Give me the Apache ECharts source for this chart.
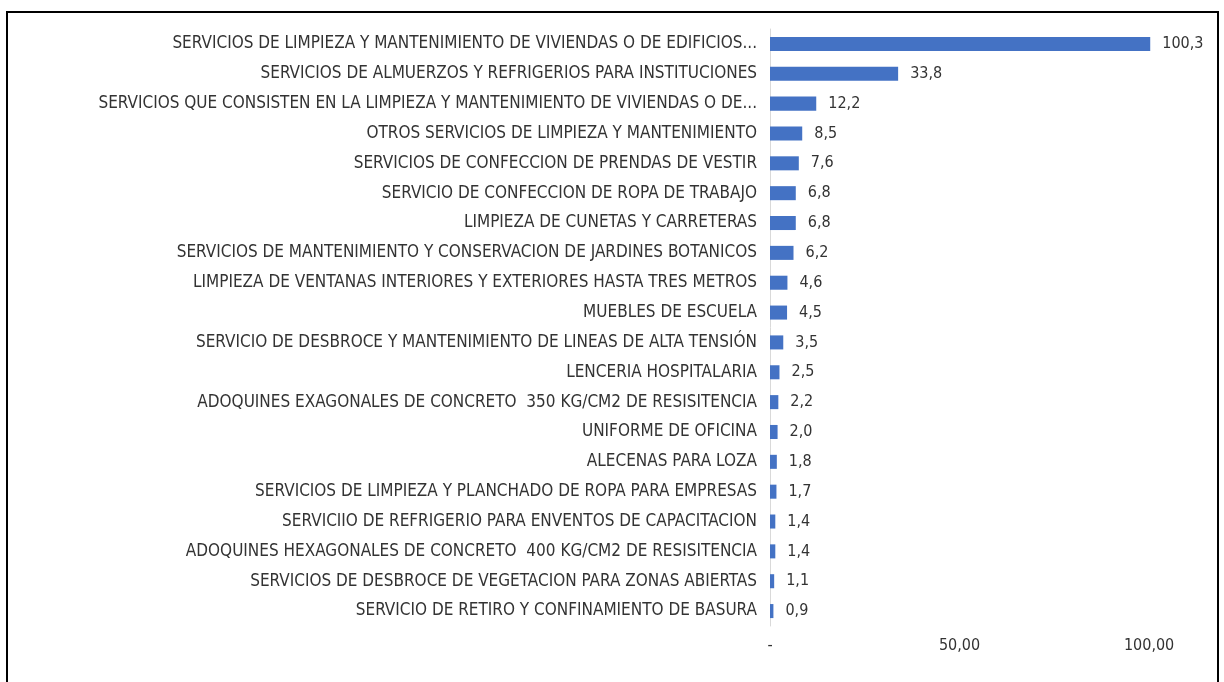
<!DOCTYPE html>
<html>
<head>
<meta charset="utf-8">
<script src="https://cdn.jsdelivr.net/npm/echarts@6/dist/echarts.min.js"></script>
<style>
  html, body { margin: 0; padding: 0; background: #fff; overflow: hidden; }
  #frame { position: absolute; left: 6px; top: 11px; width: 1209px; height: 700px; border: 2px solid #000; }
  #chart { position: absolute; left: 0; top: 0; width: 1224px; height: 682px; }
</style>
</head>
<body>
<div id="frame"></div>
<div id="chart"></div>
<script>
  // categorias y valores
  const categories = [
    'SERVICIOS DE LIMPIEZA Y MANTENIMIENTO DE VIVIENDAS O DE EDIFICIOS...',
    'SERVICIOS DE ALMUERZOS Y REFRIGERIOS PARA INSTITUCIONES',
    'SERVICIOS QUE CONSISTEN EN LA LIMPIEZA Y MANTENIMIENTO DE VIVIENDAS O DE...',
    'OTROS SERVICIOS DE LIMPIEZA Y MANTENIMIENTO',
    'SERVICIOS DE CONFECCION DE PRENDAS DE VESTIR',
    'SERVICIO DE CONFECCION DE ROPA DE TRABAJO',
    'LIMPIEZA DE CUNETAS Y CARRETERAS',
    'SERVICIOS DE MANTENIMIENTO Y CONSERVACION DE JARDINES BOTANICOS',
    'LIMPIEZA DE VENTANAS INTERIORES Y EXTERIORES HASTA TRES METROS',
    'MUEBLES DE ESCUELA',
    'SERVICIO DE DESBROCE Y MANTENIMIENTO DE LINEAS DE ALTA TENSIÓN',
    'LENCERIA HOSPITALARIA',
    'ADOQUINES EXAGONALES DE CONCRETO  350 KG/CM2 DE RESISITENCIA',
    'UNIFORME DE OFICINA',
    'ALECENAS PARA LOZA',
    'SERVICIOS DE LIMPIEZA Y PLANCHADO DE ROPA PARA EMPRESAS',
    'SERVICIIO DE REFRIGERIO PARA ENVENTOS DE CAPACITACION',
    'ADOQUINES HEXAGONALES DE CONCRETO  400 KG/CM2 DE RESISITENCIA',
    'SERVICIOS DE DESBROCE DE VEGETACION PARA ZONAS ABIERTAS',
    'SERVICIO DE RETIRO Y CONFINAMIENTO DE BASURA'
  ];
  const values = [100.3, 33.8, 12.2, 8.5, 7.6, 6.8, 6.8, 6.2, 4.6, 4.5, 3.5, 2.5, 2.2, 2.0, 1.8, 1.7, 1.4, 1.4, 1.1, 0.9];
  const xTicks = [0, 50, 100];

  const font = "'DejaVu Sans Condensed', sans-serif";

  let myChart = echarts.init(document.getElementById('chart'));
  let option = {
    animation: false,
    textStyle: { fontFamily: font },
    grid: { left: 770, right: 37, top: 29, height: 597 },
    xAxis: {
      type: 'value',
      min: 0,
      max: 110,
      interval: 50,
      splitLine: { show: false },
      axisLine: { show: false },
      axisTick: { show: false },
      axisLabel: {
        margin: 12,
        fontSize: 16,
        fontFamily: font,
        color: '#333',
        formatter: function (v) {
          if (xTicks.indexOf(v) < 0) return '';
          if (v === 0) return '-';
          return v.toFixed(2).replace('.', ',');
        }
      }
    },
    yAxis: {
      type: 'category',
      inverse: true,
      data: categories,
      axisLine: { lineStyle: { color: '#d9d9d9', width: 1 } },
      axisTick: { show: false },
      axisLabel: {
        margin: 13,
        fontSize: 17,
        fontFamily: font,
        color: '#333'
      }
    },
    series: [{
      type: 'bar',
      data: values,
      barWidth: '47%',
      itemStyle: { color: '#4472C4' },
      label: {
        show: true,
        position: 'right',
        distance: 12,
        fontSize: 16,
        fontFamily: font,
        color: '#333',
        formatter: function (p) { return p.value.toFixed(1).replace('.', ','); }
      }
    }]
  };
  myChart.setOption(option);
</script>
</body>
</html>
